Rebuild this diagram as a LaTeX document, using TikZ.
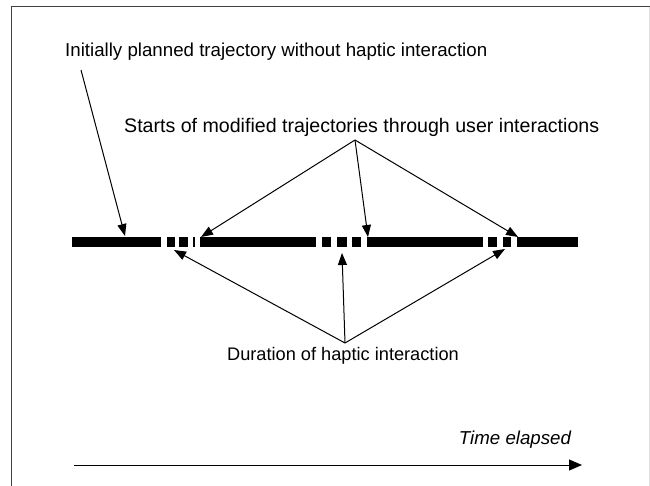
\documentclass[tikz,border=0pt]{standalone}
\usepackage{fontspec}
\setmainfont{Liberation Sans}
\usetikzlibrary{arrows.meta}
\begin{document}
\begin{tikzpicture}[x=1pt,y=-1pt,
  lbl/.style={font=\fontsize{18.7}{22}\selectfont, inner sep=0pt},
  ptr/.style={line width=1pt, -{Triangle[length=12pt,width=9pt]}},
  seg/.style={fill=black}]
\useasboundingbox (0,0) rectangle (650,486);
% frame
\draw[line width=1.5pt, black!75] (11.5,486) -- (11.5,6.7) -- (650,6.7);
\draw[black!12, line width=1pt] (649.5,6.7) -- (649.5,486);

% labels
\node[lbl, anchor=west] (plan) at (65,52) {Initially planned trajectory without haptic interaction};
\node[lbl, anchor=west, font=\fontsize{19.6}{23}\selectfont] (starts) at (124,127) {Starts of modified trajectories through user interactions};
\node[lbl, font=\fontsize{18.2}{22}\selectfont] (dur) at (343,356) {Duration of haptic interaction};
\node[lbl, font=\fontsize{18.7}{22}\selectfont\itshape] (time) at (515,440) {Time elapsed};

% trajectory bar: solid planned parts and dashed interaction parts
\foreach \a/\b in {72/161, 167/174.5, 179/188, 192.5/195, 200/316,
                   321.5/331, 336.5/346.5, 351.5/360.5, 366.5/483,
                   488/497, 503/511, 517/578}
  \fill[seg] (\a,237) rectangle (\b,247);

% pointer origins and targets
\coordinate (planFrom) at (81,70);
\coordinate (planTo) at (125,236);
\coordinate (startsFrom) at (355,140);
\coordinate (s1) at (201,237);
\coordinate (s2) at (368,237);
\coordinate (s3) at (518,237);
\coordinate (durFrom) at (345,343);
\coordinate (d1) at (174,250);
\coordinate (d2) at (342,253);
\coordinate (d3) at (505,249);
\coordinate (tStart) at (74,465);
\coordinate (tEnd) at (582,465);

\draw[ptr] (planFrom) -- (planTo);
\foreach \t in {s1,s2,s3} \draw[ptr] (startsFrom) -- (\t);
\foreach \t in {d1,d2,d3} \draw[ptr] (durFrom) -- (\t);
\draw[line width=1pt, -{Triangle[length=13pt,width=11pt]}] (tStart) -- (tEnd);
\end{tikzpicture}
\end{document}
